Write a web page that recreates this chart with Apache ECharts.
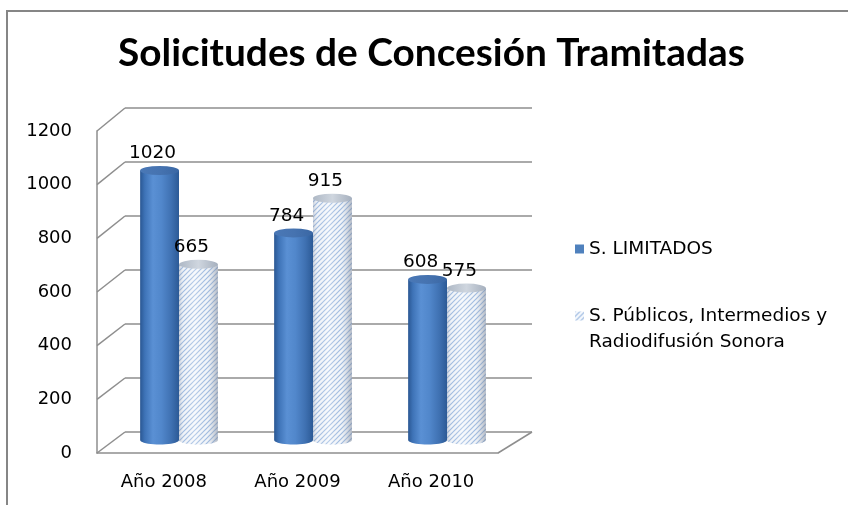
<!DOCTYPE html>
<html><head><meta charset="utf-8">
<script src="https://cdn.jsdelivr.net/npm/echarts@6/dist/echarts.min.js"></script>
<style>html,body{margin:0;padding:0;background:#fff}#c{width:848px;height:505px}</style>
</head><body><div id="c"></div>
<script>
const titleText = 'Solicitudes de Concesión Tramitadas';
const categories = ['Año 2008', 'Año 2009', 'Año 2010'];
const seriesNames = ['S. LIMITADOS', 'S. Públicos, Intermedios y\nRadiodifusión Sonora'];
const limitados = [1020, 784, 608];
const publicos = [665, 915, 575];
const yTicks = [0, 200, 400, 600, 800, 1000, 1200];

const BACK = {left: 125, top: 108, width: 407, height: 324};
const FRONT = {left: 97, top: 131, width: 401, height: 322};
const BARS = {left: 112, top: 123, width: 402, height: 317};
const LINE = '#8e8e8e';
const FONT = '"DejaVu Sans", sans-serif';
const TITLE_W = 627, TITLE_CX = 431.5;

function fitFont(text, weight, family, targetW) {
  const c = document.createElement('canvas').getContext('2d');
  c.font = weight + ' 100px ' + family;
  return 100 * targetW / c.measureText(text).width;
}
const titleSize = fitFont(titleText, 'bold', 'Lato', TITLE_W);

function stripeCanvas() {
  const s = 5, cv = document.createElement('canvas');
  cv.width = s; cv.height = s;
  const g = cv.getContext('2d');
  g.fillStyle = '#f6f9fd'; g.fillRect(0, 0, s, s);
  g.strokeStyle = '#9ab8e0'; g.lineWidth = 1.2;
  g.beginPath();
  g.moveTo(-1, s + 1); g.lineTo(s + 1, -1);
  g.moveTo(-1, 1); g.lineTo(1, -1);
  g.moveTo(s - 1, s + 1); g.lineTo(s + 1, s - 1);
  g.stroke();
  return cv;
}
const stripes = {image: stripeCanvas(), repeat: 'repeat'};

function lin(stops) {
  return {type: 'linear', x: 0, y: 0, x2: 1, y2: 0,
    colorStops: stops.map(s => ({offset: s[0], color: s[1]}))};
}
const blueBody = lin([[0, '#2a5793'], [0.12, '#3e73b7'], [0.33, '#5a90d4'], [0.55, '#5187cb'], [0.8, '#3f71b2'], [1, '#2c5a96']]);
const blueTop = lin([[0, '#4a78b6'], [0.5, '#4673b0'], [1, '#3a67a4']]);
const patShade = lin([[0, 'rgba(140,150,168,0.4)'], [0.12, 'rgba(210,216,226,0.15)'], [0.4, 'rgba(255,255,255,0.3)'], [0.72, 'rgba(205,212,222,0.12)'], [1, 'rgba(120,130,148,0.55)']]);
const patTop = lin([[0, '#aeb8c5'], [0.5, '#cfd6df'], [1, '#a6b0be']]);

function makeRender(k) {
  return function (params, api) {
    const cat = api.value(0), val = api.value(1);
    const t = api.coord([cat, val]);
    const b = api.coord([cat, 0]);
    const band = api.size([1, 0])[0];
    const rx = band * 0.145, ry = 4.5;
    const cx = t[0] + (k === 0 ? -rx : rx);
    const ty = t[1], by = b[1];
    const pts = [[cx - rx, ty]];
    for (let i = 0; i <= 20; i++) {
      const a = Math.PI - Math.PI * i / 20;
      pts.push([cx + rx * Math.cos(a), by + ry * Math.sin(a)]);
    }
    pts.push([cx + rx, ty]);
    const children = [];
    if (k === 0) {
      children.push({type: 'polygon', shape: {points: pts}, style: {fill: blueBody}});
      children.push({type: 'circle', x: cx, y: ty, scaleY: ry / rx, shape: {cx: 0, cy: 0, r: rx}, style: {fill: blueTop}});
    } else {
      children.push({type: 'polygon', shape: {points: pts}, style: {fill: stripes}});
      children.push({type: 'polygon', shape: {points: pts}, style: {fill: patShade}});
      children.push({type: 'circle', x: cx, y: ty, scaleY: ry / rx, shape: {cx: 0, cy: 0, r: rx}, style: {fill: patTop}});
    }
    children.push({type: 'text', x: cx - 7, y: ty - 17, z2: 100,
      style: {text: String(val), fontSize: 18.5, fontFamily: FONT, fill: '#000', align: 'center', verticalAlign: 'middle'}});
    return {type: 'group', children: children};
  };
}

const chart = echarts.init(document.getElementById('c'), null, {renderer: 'canvas'});
const labelStyle = {fontFamily: FONT, fontSize: 18, color: '#000'};
chart.setOption({
  animation: false,
  backgroundColor: '#fff',
  title: {text: titleText, left: TITLE_CX - TITLE_W / 2, top: 34, padding: 0,
    textStyle: {fontFamily: 'Lato', fontWeight: 'bold', fontSize: titleSize, color: '#000'}},
  legend: [
    {data: [seriesNames[0]], orient: 'vertical', left: 575, top: 239.5, padding: 0, icon: 'rect',
      itemWidth: 9, itemHeight: 9, selectedMode: false,
      textStyle: {fontFamily: FONT, fontSize: 18.5, color: '#000'}},
    {data: [seriesNames[1]], orient: 'vertical', left: 575, top: 277, padding: 0, icon: 'rect',
      itemWidth: 9, itemHeight: 9, selectedMode: false,
      formatter: name => '\n' + name,
      textStyle: {fontFamily: FONT, fontSize: 18.5, color: '#000', lineHeight: 26}}
  ],
  grid: [
    Object.assign({containLabel: false}, BACK),
    Object.assign({containLabel: false}, FRONT),
    Object.assign({containLabel: false}, BARS)
  ],
  xAxis: [
    {gridIndex: 0, type: 'category', data: categories, show: false},
    {gridIndex: 1, type: 'category', data: categories,
      axisLine: {show: true, lineStyle: {color: LINE, width: 1.5}}, axisTick: {show: false},
      axisLabel: Object.assign({margin: 20}, labelStyle), splitLine: {show: false}},
    {gridIndex: 2, type: 'category', data: categories, show: false}
  ],
  yAxis: [
    {gridIndex: 0, type: 'value', min: yTicks[0], max: yTicks[yTicks.length - 1], interval: yTicks[1] - yTicks[0],
      axisLine: {show: false}, axisTick: {show: false}, axisLabel: {show: false},
      splitLine: {show: true, lineStyle: {color: LINE, width: 1.5}}},
    {gridIndex: 1, type: 'value', min: yTicks[0], max: yTicks[yTicks.length - 1], interval: yTicks[1] - yTicks[0],
      axisLine: {show: true, lineStyle: {color: LINE, width: 1.5}}, axisTick: {show: false},
      axisLabel: Object.assign({margin: 25, padding: [4, 0, 0, 0], formatter: v => String(v)}, labelStyle),
      splitLine: {show: false}},
    {gridIndex: 2, type: 'value', min: yTicks[0], max: yTicks[yTicks.length - 1], show: false}
  ],
  series: [
    {type: 'custom', name: seriesNames[0], xAxisIndex: 2, yAxisIndex: 2,
      itemStyle: {color: '#4f81bd'}, encode: {x: 0, y: 1},
      data: limitados.map((v, i) => [i, v]), renderItem: makeRender(0)},
    {type: 'custom', name: seriesNames[1], xAxisIndex: 2, yAxisIndex: 2,
      itemStyle: {color: stripes}, encode: {x: 0, y: 1},
      data: publicos.map((v, i) => [i, v]), renderItem: makeRender(1)}
  ]
});

const yF = v => chart.convertToPixel({yAxisIndex: 1}, v);
const yB = v => chart.convertToPixel({yAxisIndex: 0}, v);
const lineStyle = {stroke: LINE, lineWidth: 1.5};
const gfx = yTicks.map(v => ({type: 'line', silent: true,
  shape: {x1: FRONT.left, y1: yF(v), x2: BACK.left, y2: yB(v)}, style: lineStyle}));
gfx.push({type: 'line', silent: true,
  shape: {x1: FRONT.left + FRONT.width, y1: yF(0), x2: BACK.left + BACK.width, y2: yB(0)}, style: lineStyle});
gfx.push({type: 'rect', silent: true, shape: {x: 7, y: 11, width: 900, height: 600},
  style: {fill: 'none', stroke: '#868686', lineWidth: 2}});
chart.setOption({graphic: gfx});
</script></body></html>
